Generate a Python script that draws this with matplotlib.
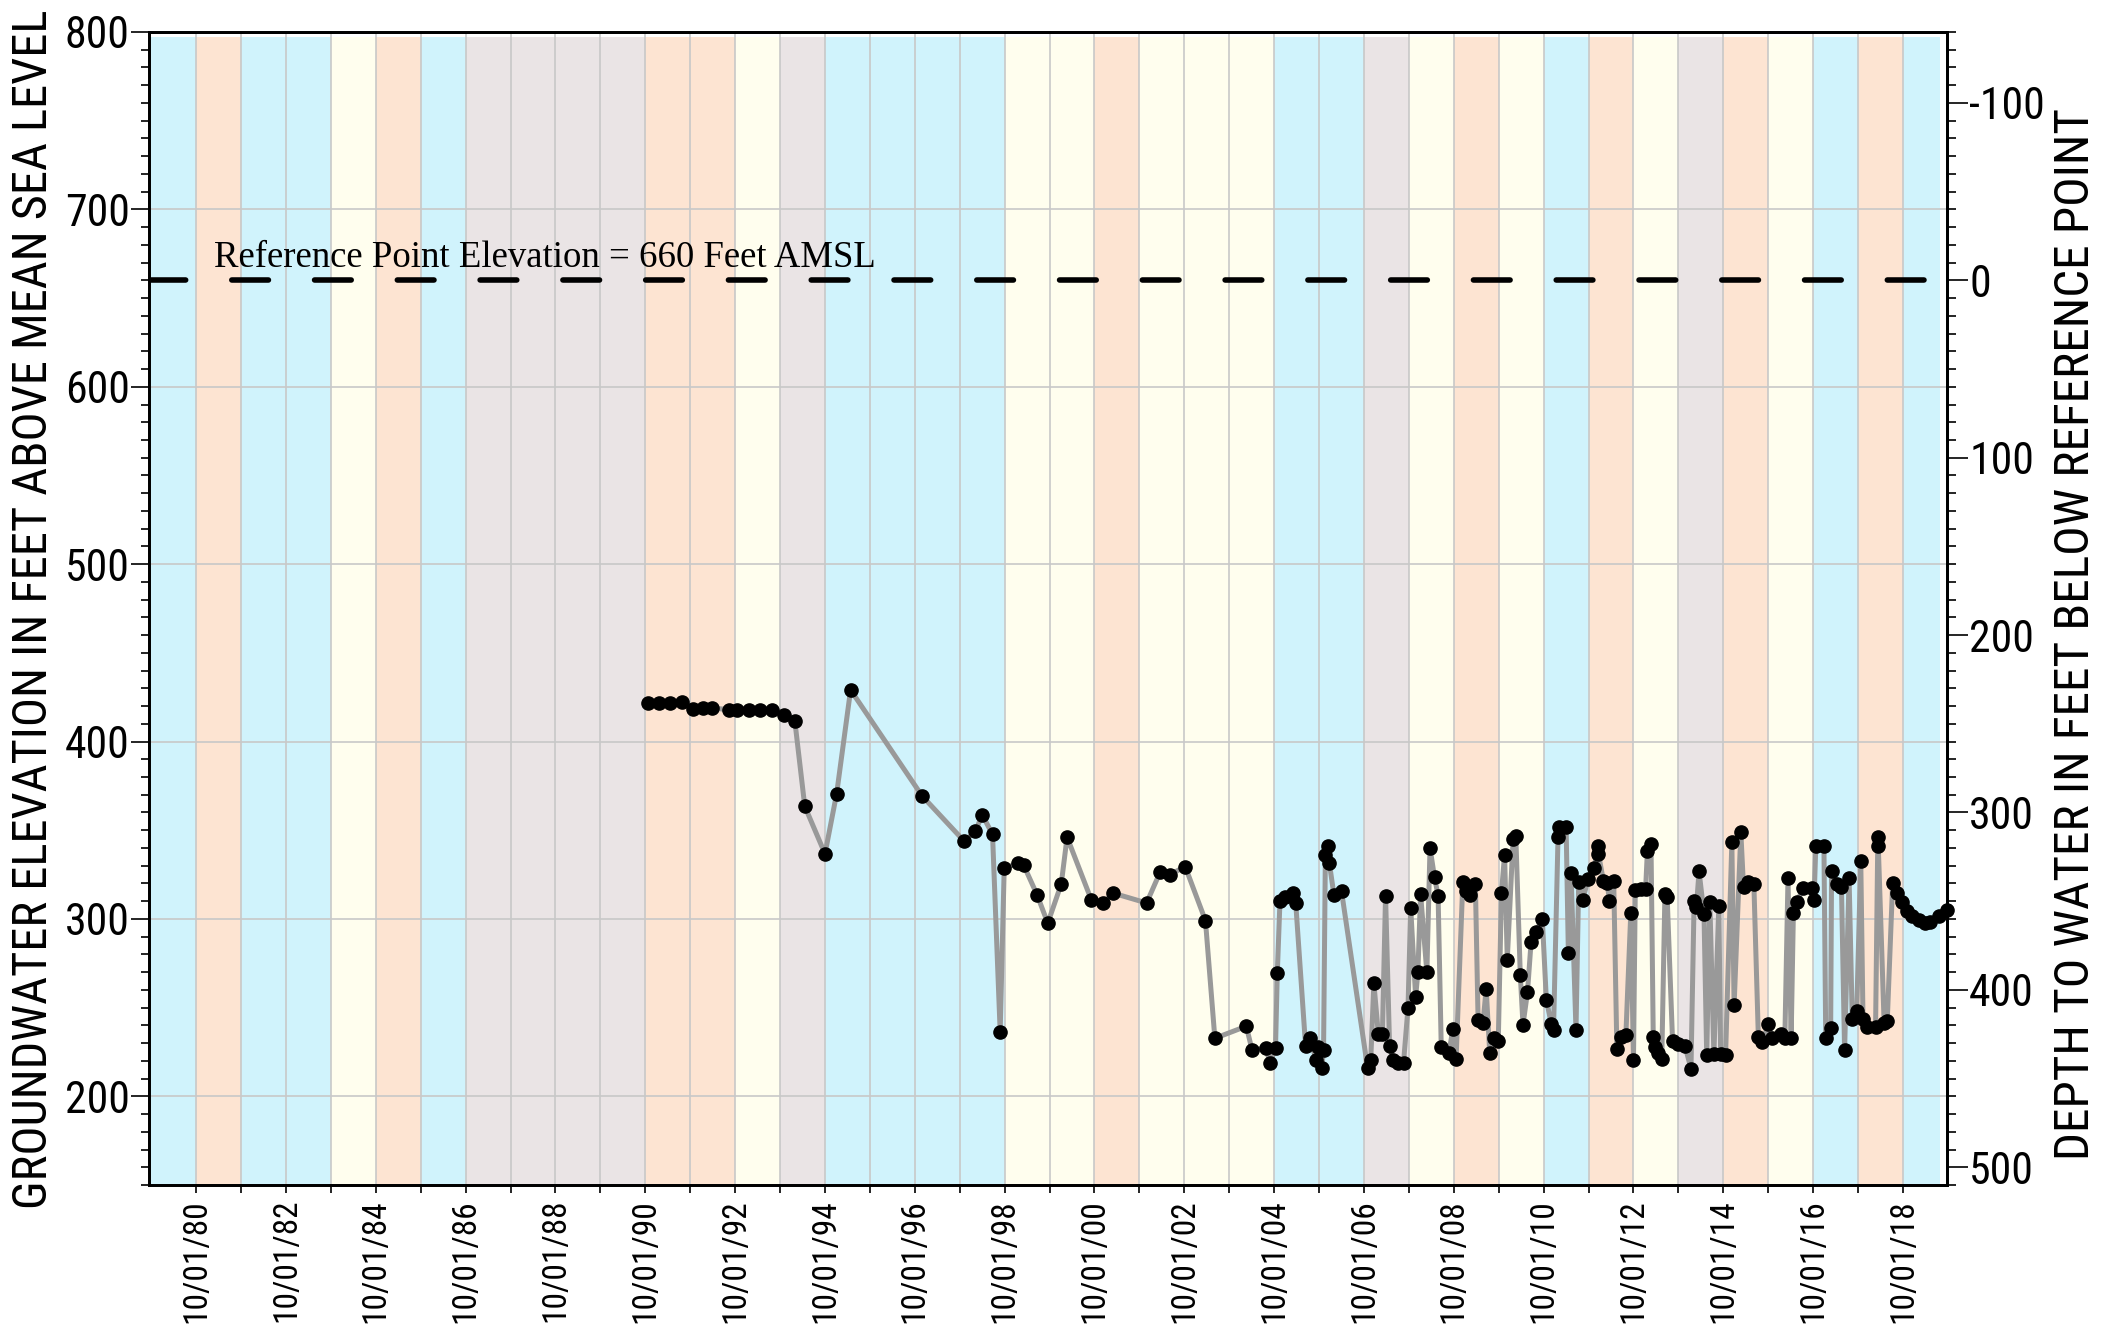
import matplotlib
matplotlib.use("Agg")
import matplotlib.pyplot as plt
from matplotlib import font_manager as fm
from matplotlib.ticker import MultipleLocator

plt.rcParams["axes.unicode_minus"] = False

# ---------------- data ----------------
# water-year classification colour class per water year (WY ends Sep 30 of the year)
water_years = list(range(1980, 2020))
wy_class = ["W", "A", "W", "W", "B", "A", "W", "D", "D", "D",
            "D", "A", "A", "B", "D", "W", "W", "W", "W", "B",
            "B", "A", "B", "B", "B", "W", "W", "D", "B", "A",
            "B", "W", "A", "B", "D", "A", "B", "W", "A", "W"]
class_colors = {"W": "#D0F3FC", "A": "#FDE4D2", "B": "#FFFEEE", "D": "#EAE4E5"}

# measurement dates (decimal years) and groundwater elevations (ft AMSL)
dates = [
    1990.80, 1991.05, 1991.30, 1991.57, 1991.82, 1992.04, 1992.23, 1992.61, 1992.79, 1993.06,
    1993.31, 1993.56, 1993.83, 1994.08, 1994.30, 1994.75, 1995.01, 1995.32, 1996.91, 1997.85,
    1998.10, 1998.25, 1998.48, 1998.65, 1998.74, 1999.05, 1999.17, 1999.47, 1999.71, 2000.01,
    2000.14, 2000.68, 2000.93, 2001.17, 2001.91, 2002.21, 2002.43, 2002.77, 2003.22, 2003.43,
    2004.13, 2004.26, 2004.56, 2004.66, 2004.78, 2004.82, 2004.88, 2004.99, 2005.16, 2005.23,
    2005.45, 2005.55, 2005.68, 2005.73, 2005.81, 2005.85, 2005.89, 2005.95, 2005.98, 2006.08,
    2006.25, 2006.83, 2006.90, 2006.97, 2007.07, 2007.16, 2007.23, 2007.32, 2007.40, 2007.51,
    2007.63, 2007.73, 2007.79, 2007.90, 2007.95, 2008.01, 2008.15, 2008.22, 2008.32, 2008.40,
    2008.47, 2008.64, 2008.73, 2008.80, 2008.95, 2009.02, 2009.10, 2009.23, 2009.29, 2009.40,
    2009.47, 2009.55, 2009.64, 2009.74, 2009.81, 2009.88, 2009.94, 2010.07, 2010.13, 2010.23,
    2010.29, 2010.39, 2010.47, 2010.57, 2010.72, 2010.81, 2010.92, 2010.97, 2011.07, 2011.10,
    2011.25, 2011.30, 2011.36, 2011.47, 2011.53, 2011.62, 2011.74, 2011.88, 2011.95, 2011.97,
    2012.08, 2012.17, 2012.21, 2012.31, 2012.38, 2012.47, 2012.58, 2012.69, 2012.75, 2012.79,
    2012.91, 2013.02, 2013.06, 2013.14, 2013.19, 2013.23, 2013.30, 2013.38, 2013.45, 2013.50,
    2013.62, 2013.73, 2013.90, 2014.03, 2014.10, 2014.15, 2014.21, 2014.32, 2014.38, 2014.45,
    2014.54, 2014.65, 2014.69, 2014.80, 2014.94, 2014.99, 2015.14, 2015.20, 2015.29, 2015.43,
    2015.53, 2015.62, 2015.75, 2015.83, 2016.03, 2016.12, 2016.19, 2016.26, 2016.31, 2016.40,
    2016.52, 2016.73, 2016.77, 2016.81, 2016.99, 2017.03, 2017.14, 2017.16, 2017.29, 2017.38,
    2017.45, 2017.55, 2017.62, 2017.72, 2017.81, 2017.86, 2017.95, 2018.14, 2018.19, 2018.20,
    2018.33, 2018.40, 2018.52, 2018.62, 2018.73, 2018.84, 2018.95, 2019.10, 2019.25, 2019.36,
    2019.55, 2019.72,
]
elevations = [
    421.6, 421.6, 421.6, 422.2, 418.4, 419.0, 419.0, 417.9, 417.9, 417.9,
    417.9, 417.9, 414.7, 411.3, 363.5, 336.7, 370.7, 429.1, 369.4, 343.8,
    349.4, 358.8, 347.6, 236.5, 328.6, 331.4, 330.5, 313.7, 297.6, 319.7,
    346.1, 310.7, 308.8, 314.5, 309.0, 326.3, 325.0, 329.5, 299.1, 232.7,
    239.5, 225.9, 227.4, 218.9, 227.4, 269.4, 310.3, 312.2, 314.4, 309.0,
    228.3, 233.0, 220.6, 227.8, 216.1, 225.9, 336.2, 341.3, 331.3, 313.7,
    315.6, 216.1, 220.3, 263.8, 234.9, 235.3, 313.1, 228.1, 220.6, 218.8,
    218.8, 249.9, 306.2, 255.9, 270.0, 314.1, 269.8, 340.0, 323.5, 313.1,
    227.8, 224.4, 238.1, 220.8, 320.6, 316.0, 313.5, 319.7, 243.3, 241.3,
    260.6, 224.4, 233.0, 231.1, 314.4, 336.2, 277.1, 345.0, 346.9, 268.5,
    240.3, 258.7, 286.9, 292.5, 300.0, 254.4, 240.9, 237.5, 346.3, 352.0,
    352.0, 280.7, 325.9, 237.2, 320.6, 310.7, 322.5, 328.5, 341.3, 336.6,
    321.6, 320.1, 310.3, 321.2, 226.8, 233.4, 234.3, 303.4, 220.3, 316.3,
    316.9, 316.9, 338.5, 342.2, 233.4, 227.8, 224.4, 221.2, 314.1, 312.2,
    231.1, 229.6, 228.1, 215.6, 310.3, 306.6, 326.8, 302.8, 223.1, 309.4,
    223.6, 307.5, 223.6, 223.1, 343.2, 251.2, 348.8, 317.8, 321.0, 319.7,
    233.4, 230.6, 240.5, 233.0, 235.3, 233.0, 322.9, 232.8, 303.4, 309.8,
    317.3, 317.3, 310.7, 341.3, 341.3, 232.8, 238.5, 327.2, 319.7, 318.2,
    225.9, 322.9, 243.7, 247.9, 332.8, 243.6, 239.3, 239.3, 346.3, 341.3,
    241.5, 242.4, 320.1, 314.5, 309.4, 304.7, 301.9, 299.4, 297.6, 298.0,
    301.9, 305.1,
]

reference_elevation = 660
tick_years = list(range(1980, 2019))
tick_labels = [f"10/01/{y % 100:02d}" if y % 2 == 0 else "" for y in tick_years]
ref_text = "Reference Point Elevation = 660 Feet AMSL"
left_label = "GROUNDWATER ELEVATION IN FEET ABOVE MEAN SEA LEVEL"
right_label = "DEPTH TO WATER IN FEET BELOW REFERENCE POINT"

# ---------------- fonts ----------------
names = {f.name for f in fm.fontManager.ttflist}
narrow = None
for cand in ["Liberation Sans Narrow", "Roboto Condensed", "Open Sans Condensed"]:
    if cand in names:
        narrow = dict(family=cand)
        break
if narrow is None:
    narrow = dict(family="DejaVu Sans", stretch="condensed")
serif = dict(family="Liberation Serif" if "Liberation Serif" in names else "DejaVu Serif")

# ---------------- figure ----------------
fig = plt.figure(figsize=(21.2, 13.43), dpi=100)
ax = fig.add_axes([149 / 2120, 1 - 1185 / 1343, 1798 / 2120, (1185 - 32) / 1343])

xmin, xmax = 1979.70, 2019.73
ymin, ymax = 150, 800
ax.set_xlim(xmin, xmax)
ax.set_ylim(ymin, ymax)

# water-year background bands
band_top = (797 - ymin) / (ymax - ymin)
for wy, cls in zip(water_years, wy_class):
    x0 = max(wy - 1 + 0.75, xmin)
    x1 = min(wy + 0.75, 2019.58)
    ax.axvspan(x0, x1, ymin=0, ymax=band_top, color=class_colors[cls], lw=0, zorder=0)

# grid
ax.set_xticks([y + 0.75 for y in tick_years])
ax.set_xticklabels(tick_labels)
ax.set_yticks(range(200, 801, 100))
ax.yaxis.set_minor_locator(MultipleLocator(10))
ax.grid(True, which="major", color="#C8C8C8", lw=1.2, zorder=1)
ax.set_axisbelow(False)
for gl in ax.get_xgridlines() + ax.get_ygridlines():
    gl.set_zorder(1)

# reference line
ax.axhline(reference_elevation, color="black", lw=4.0, dashes=(6.6, 8.3),
           dash_capstyle="round", zorder=3)
ax.text(1981.15, 667.5, ref_text, fontsize=26.5, va="baseline", ha="left", zorder=4, **serif)

# data
ax.plot(dates, elevations, color="#999999", lw=3.6, zorder=4)
ax.plot(dates, elevations, ls="none", marker="o", ms=9.5, color="black", zorder=5, clip_on=False)

# ticks / spines
for s in ax.spines.values():
    s.set_linewidth(2.0)
    s.set_zorder(6)
ax.tick_params(axis="x", which="major", direction="out", length=6, width=1.2,
               pad=4, labelrotation=90, labelsize=24)
ax.tick_params(axis="y", which="major", direction="out", length=13, width=1.2,
               pad=1, labelsize=31.5)
ax.tick_params(axis="y", which="minor", direction="out", length=6, width=1.2)
for lab in ax.get_xticklabels() + ax.get_yticklabels():
    lab.set_fontproperties(fm.FontProperties(**narrow, size=lab.get_fontsize()))

ax2 = ax.twinx()
ax2.set_ylim(reference_elevation - ymin, reference_elevation - ymax)
ax2.set_yticks(range(-100, 501, 100))
ax2.yaxis.set_minor_locator(MultipleLocator(10))
ax2.tick_params(axis="y", which="major", direction="out", length=15, width=1.2,
                pad=1, labelsize=31.5)
ax2.tick_params(axis="y", which="minor", direction="out", length=6.5, width=1.2)
for lab in ax2.get_yticklabels():
    lab.set_fontproperties(fm.FontProperties(**narrow, size=31.5))
for s in ax2.spines.values():
    s.set_linewidth(2.0)

fig.text(34.5 / 2120, 1 - 609 / 1343, left_label, rotation=90, ha="center", va="center",
         fontsize=34.8, **narrow)
fig.text(2076 / 2120, 1 - 633.5 / 1343, right_label, rotation=90, ha="center", va="center",
         fontsize=35.5, **narrow)

fig.savefig("out.png", dpi=100)
